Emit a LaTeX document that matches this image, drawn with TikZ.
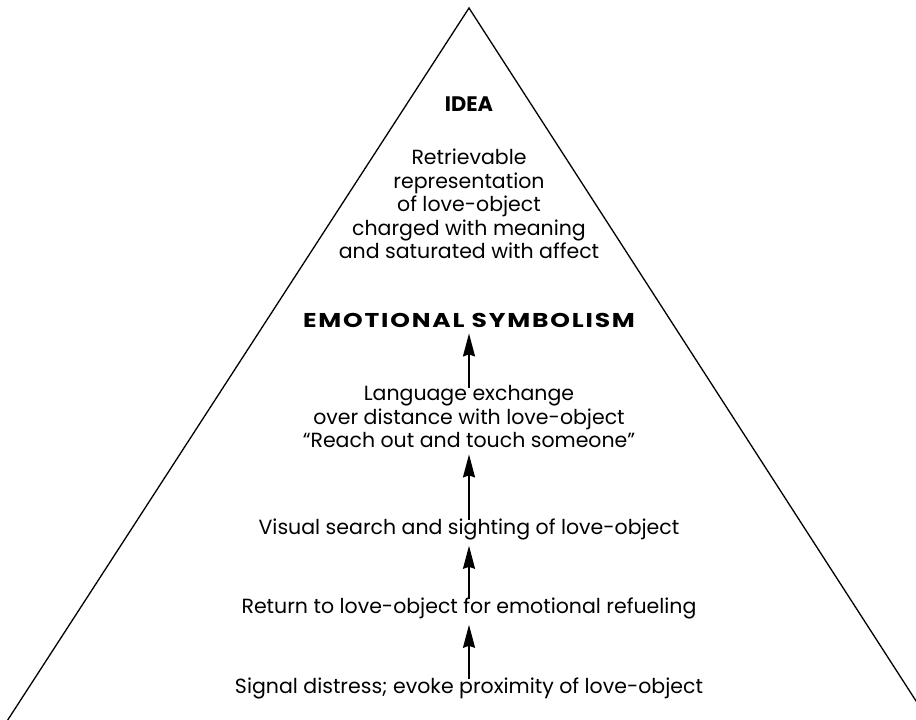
\documentclass[tikz,border=0pt]{standalone}
\usepackage{fontspec}
\setmainfont{Poppins}
\usetikzlibrary{arrows.meta}
\tikzset{%
  lbl/.style={align=center,inner sep=0,font=\fontsize{20.5}{23.5}\selectfont},
  head/.style={lbl,font=\bfseries\fontsize{21}{23.5}\selectfont},
  widehead/.style={lbl,font=\bfseries\fontsize{20}{23.5}\selectfont\addfontfeatures{FakeStretch=1.25,LetterSpace=9}},
  uparrow/.style={draw,line width=1.7pt,-{Stealth[length=23pt,width=12pt,inset=2pt]},shorten >=6pt,shorten <=-2pt}
}

\begin{document}
\begin{tikzpicture}[x=1pt,y=-1pt]
    \useasboundingbox (0,0) rectangle (916,720);
    \clip (0,0) rectangle (916,720);
    \path
      (469,8) coordinate (top)
      (-2,735) coordinate (bl) (938,735) coordinate (br);
    \draw[line width=1.3pt] (bl) -- (top) -- (br);
    \path
      (469,104) node[head] (idea) {IDEA}
      (469,204) node[lbl] (retr) {Retrievable\\representation\\of love-object\\charged with meaning\\and saturated with affect}
      (469,320) node[widehead] (emo) {EMOTIONAL SYMBOLISM}
      (469,417) node[lbl] (lang) {Language exchange\\over distance with love-object\\``Reach out and touch someone''}
      (469,529) node[lbl] (vis) {Visual search and sighting of love-object}
      (469,608) node[lbl] (ret) {Return to love-object for emotional refueling}
      (469,688) node[lbl] (sig) {Signal distress; evoke proximity of love-object};
    \draw[uparrow] (lang.north) -- (emo.south);
    \draw[uparrow] (vis.north) -- (lang.south);
    \draw[uparrow] (ret.north) -- (vis.south);
    \draw[uparrow] (sig.north) -- (ret.south);
  \end{tikzpicture}
\end{document}
